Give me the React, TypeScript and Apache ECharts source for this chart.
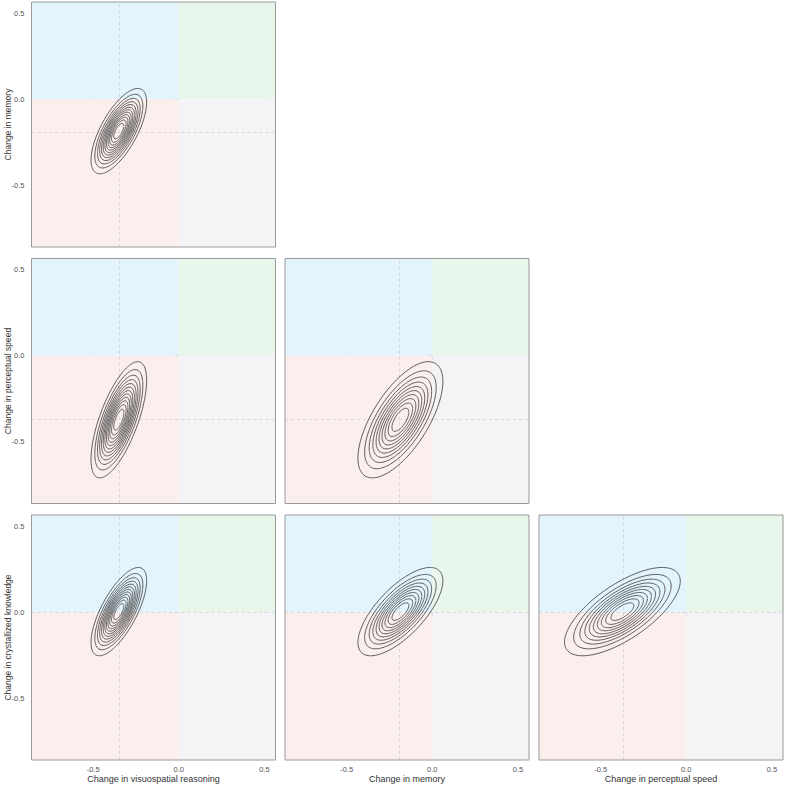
import React, { useEffect, useRef } from "react";
import * as echarts from "echarts";

// Variables (order: visuospatial, memory, perceptual speed, crystallized knowledge)
const variableTitles = [
  "Change in visuospatial reasoning",
  "Change in memory",
  "Change in perceptual speed",
  "Change in crystallized knowledge",
];
const variableMeans = [-0.35, -0.186, -0.373, 0.003];
const variableSDs = [0.074, 0.113, 0.154, 0.117];

// Panels of the lower-triangular matrix: y variable, x variable, correlation, number of contour rings
const panelRowVar = [1, 2, 2, 3, 3, 3];
const panelColVar = [0, 0, 1, 0, 1, 2];
const panelCorrelation = [0.68, 0.68, 0.66, 0.7, 0.7, 0.69];
const panelRingCount = [12, 12, 10, 12, 10, 10];

const tickValues = [-0.5, 0, 0.5];
const axisMin = -0.86;
const axisMax = 0.565;
const outerLevel = 0.09; // lowest contour as fraction of peak density

const colLefts = [31.5, 285, 539];
const rowTops = [2, 258.5, 515];
const panelW = 244;
const panelH = 245;

const quadrantColors = {
  upLeft: "#e3f4fc",
  upRight: "#e8f6ec",
  downLeft: "#fbefed",
  downRight: "#f4f4f6",
};

function ellipse(mx: number, my: number, sx: number, sy: number, rho: number, level: number) {
  const r = Math.sqrt(-2 * Math.log(level));
  const pts: number[][] = [];
  const n = 160;
  const s = Math.sqrt(1 - rho * rho);
  for (let i = 0; i <= n; i++) {
    const t = (2 * Math.PI * i) / n;
    const x = mx + r * sx * Math.cos(t);
    const y = my + r * sy * (rho * Math.cos(t) + s * Math.sin(t));
    pts.push([x, y]);
  }
  return pts;
}

export default function App() {
  const ref = useRef<HTMLDivElement>(null);
  useEffect(() => {
    document.body.style.margin = "0";
    const chart = echarts.init(ref.current!, undefined, { renderer: "svg" });
    const grids: any[] = [];
    const xAxes: any[] = [];
    const yAxes: any[] = [];
    const series: any[] = [];
    const font = "Liberation Sans";
    panelRowVar.forEach((rv, i) => {
      const cv = panelColVar[i];
      const row = rv - 1;
      const col = cv;
      grids.push({
        left: colLefts[col],
        top: rowTops[row],
        width: panelW,
        height: panelH,
        show: true,
        z: 10,
        backgroundColor: "transparent",
        borderColor: "#9a9a9a",
        borderWidth: 1,
        containLabel: false,
        outerBoundsMode: "none",
      });
      const isBottom = row === 2;
      const isLeft = col === 0;
      xAxes.push({
        type: "value",
        gridIndex: i,
        min: axisMin,
        max: axisMax,
        axisLine: { show: false },
        splitLine: { show: false },
        axisTick: {
          show: true,
          inside: false,
          length: 4,
          customValues: tickValues,
          lineStyle: { color: "#8c8c8c", width: 1 },
        },
        axisLabel: {
          show: isBottom,
          customValues: tickValues,
          formatter: (v: number) => v.toFixed(1),
          fontSize: 7.5,
          color: "#555",
          margin: 5,
          fontFamily: font,
        },
        name: isBottom ? variableTitles[cv] : "",
        nameLocation: "middle",
        nameGap: 14,
        nameMoveOverlap: false,
        nameTextStyle: { fontSize: 9, color: "#333", fontFamily: font },
      });
      yAxes.push({
        type: "value",
        gridIndex: i,
        min: axisMin,
        max: axisMax,
        axisLine: { show: false },
        splitLine: { show: false },
        axisTick: {
          show: true,
          inside: false,
          length: 4,
          customValues: tickValues,
          lineStyle: { color: "#8c8c8c", width: 1 },
        },
        axisLabel: {
          show: isLeft,
          customValues: tickValues,
          formatter: (v: number) => v.toFixed(1),
          fontSize: 7.5,
          color: "#555",
          margin: 7,
          fontFamily: font,
        },
        name: isLeft ? variableTitles[rv] : "",
        nameLocation: "middle",
        nameGap: 19.5,
        nameMoveOverlap: false,
        nameTextStyle: { fontSize: 8.5, color: "#333", fontFamily: font },
      });
      const mx = variableMeans[cv];
      const my = variableMeans[rv];
      const sx = variableSDs[cv];
      const sy = variableSDs[rv];
      const rho = panelCorrelation[i];
      const n = panelRingCount[i];
      for (let k = 0; k < n; k++) {
        const level = outerLevel + (k * (1 - outerLevel)) / n;
        const s: any = {
          type: "line",
          xAxisIndex: i,
          yAxisIndex: i,
          data: ellipse(mx, my, sx, sy, rho, level),
          showSymbol: false,
          symbol: "none",
          smooth: false,
          silent: true,
          lineStyle: { color: "#4a4a4a", width: 0.9 },
          z: 3,
        };
        if (k === 0) {
          s.markArea = {
            silent: true,
            z: 1,
            data: [
              [{ coord: [axisMin, 0], itemStyle: { color: quadrantColors.upLeft } }, { coord: [0, axisMax] }],
              [{ coord: [0, 0], itemStyle: { color: quadrantColors.upRight } }, { coord: [axisMax, axisMax] }],
              [{ coord: [axisMin, axisMin], itemStyle: { color: quadrantColors.downLeft } }, { coord: [0, 0] }],
              [{ coord: [0, axisMin], itemStyle: { color: quadrantColors.downRight } }, { coord: [axisMax, 0] }],
            ],
          };
          s.markLine = {
            silent: true,
            z: 2,
            symbol: "none",
            label: { show: false },
            lineStyle: { color: "#cfcfcf", type: [3, 3], width: 0.8 },
            data: [{ xAxis: mx }, { yAxis: my }],
          };
        }
        series.push(s);
      }
    });
    chart.setOption({
      animation: false,
      backgroundColor: "#ffffff",
      grid: grids,
      xAxis: xAxes,
      yAxis: yAxes,
      series,
    });
    return () => chart.dispose();
  }, []);
  return (
    <div
      ref={ref}
      style={{ position: "fixed", left: 0, top: 0, width: 785, height: 785 }}
    />
  );
}
